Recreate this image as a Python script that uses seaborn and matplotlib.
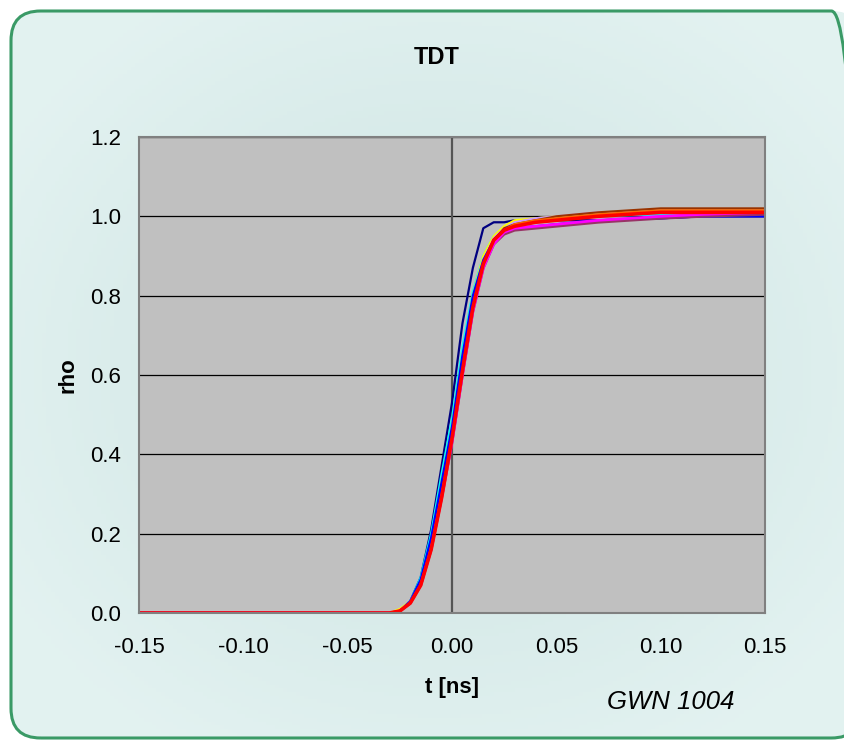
import numpy as np
import pandas as pd
import matplotlib
matplotlib.use("Agg")
import matplotlib.pyplot as plt
from matplotlib.patches import FancyBboxPatch
import seaborn as sns

sns.set_style("white")
plt.rcParams['font.family'] = ['Liberation Sans', 'DejaVu Sans']
plt.rcParams['text.color'] = 'black'
plt.rcParams['axes.labelcolor'] = 'black'
plt.rcParams['xtick.color'] = 'black'
plt.rcParams['ytick.color'] = 'black'

# time grid [ns] and reflection coefficient per trace
t = [-0.15, -0.03, -0.025, -0.02, -0.015, -0.01, -0.005, 0.0, 0.005, 0.01,
     0.015, 0.02, 0.025, 0.03, 0.04, 0.05, 0.07, 0.1, 0.12, 0.15]

traces = {
    "navy":    [0, 0, 0.005, 0.03, 0.09, 0.21, 0.37, 0.53, 0.73, 0.87, 0.97, 0.985, 0.985, 0.99, 0.99, 0.99, 0.99, 0.995, 1.0, 1.0],
    "cyan":    [0, 0, 0.005, 0.03, 0.09, 0.2, 0.35, 0.49, 0.67, 0.81, 0.9, 0.95, 0.97, 0.98, 0.99, 0.995, 1.0, 1.005, 1.01, 1.01],
    "yellow":  [0, 0, 0.01, 0.03, 0.08, 0.18, 0.33, 0.47, 0.65, 0.8, 0.9, 0.95, 0.975, 0.99, 0.995, 1.0, 1.005, 1.01, 1.01, 1.01],
    "violet":  [0, 0, 0.005, 0.03, 0.08, 0.18, 0.32, 0.46, 0.64, 0.79, 0.89, 0.945, 0.97, 0.985, 0.995, 1.0, 1.01, 1.01, 1.01, 1.01],
    "brown":   [0, 0, 0.005, 0.025, 0.075, 0.17, 0.31, 0.45, 0.63, 0.78, 0.88, 0.94, 0.97, 0.98, 0.99, 1.0, 1.01, 1.02, 1.02, 1.02],
    "orange":  [0, 0, 0.005, 0.025, 0.075, 0.17, 0.3, 0.45, 0.62, 0.78, 0.88, 0.94, 0.965, 0.98, 0.99, 0.995, 1.005, 1.015, 1.015, 1.015],
    "blue":    [0, 0, 0.005, 0.03, 0.085, 0.19, 0.33, 0.47, 0.65, 0.8, 0.89, 0.94, 0.96, 0.97, 0.975, 0.98, 0.99, 0.995, 1.0, 1.0],
    "purple":  [0, 0, 0.005, 0.025, 0.07, 0.16, 0.29, 0.43, 0.6, 0.76, 0.87, 0.93, 0.955, 0.965, 0.97, 0.975, 0.985, 0.995, 1.0, 1.005],
    "magenta": [0, 0, 0.005, 0.025, 0.07, 0.16, 0.29, 0.43, 0.6, 0.76, 0.87, 0.93, 0.96, 0.97, 0.975, 0.98, 0.99, 1.0, 1.005, 1.01],
    "red":     [0, 0, 0.005, 0.025, 0.07, 0.16, 0.29, 0.44, 0.61, 0.77, 0.88, 0.94, 0.965, 0.975, 0.985, 0.99, 1.0, 1.01, 1.01, 1.01],
}
colors = {
    "navy": "#000080", "cyan": "#00ffff", "yellow": "#ffff00", "violet": "#cc99ff",
    "brown": "#993300", "orange": "#ff6600", "blue": "#0000ff", "purple": "#993366",
    "magenta": "#ff00ff", "red": "#ff0000",
}
widths = {"red": 2.6, "magenta": 2.0, "purple": 2.0}

df = pd.DataFrame(traces)
df["t"] = t
long = df.melt(id_vars="t", var_name="trace", value_name="rho")

fig = plt.figure(figsize=(8.45, 7.4), dpi=100)
fig.patch.set_facecolor("white")

# panel background with soft radial shading
bg = fig.add_axes([0, 0, 1, 1], zorder=-2)
yy, xx = np.mgrid[0:1:200j, 0:1:200j]
r = np.sqrt(((xx - 0.52) / 0.6) ** 2 + ((yy - 0.5) / 0.6) ** 2)
shade = np.clip(r, 0, 1)
c0 = np.array([0.80, 0.89, 0.885])
c1 = np.array([0.89, 0.95, 0.945])
img = c0[None, None, :] * (1 - shade[..., None]) + c1[None, None, :] * shade[..., None]
bg.imshow(img, extent=[0, 1, 0, 1], aspect="auto", origin="lower")
bg.set_xlim(0, 1)
bg.set_ylim(0, 1)
bg.axis("off")
panel = FancyBboxPatch((11 / 845, 2 / 740), 850 / 845, 727 / 740,
                       boxstyle="round,pad=0,rounding_size=0.035",
                       transform=bg.transAxes, facecolor="none",
                       edgecolor="#3a9a66", linewidth=2.2, mutation_aspect=845 / 740)
bg.add_patch(panel)
clip = FancyBboxPatch((11 / 845, 2 / 740), 850 / 845, 727 / 740,
                      boxstyle="round,pad=0,rounding_size=0.035",
                      transform=bg.transAxes, facecolor="none", edgecolor="none",
                      mutation_aspect=845 / 740)
bg.add_patch(clip)
bg.images[0].set_clip_path(clip)

ax = fig.add_axes([139 / 845, 1 - 613 / 740, (765 - 139) / 845, (613 - 137) / 740])
ax.set_facecolor("#c0c0c0")

sns.lineplot(data=long, x="t", y="rho", hue="trace", palette=colors,
             hue_order=list(traces.keys()), ax=ax, legend=False, linewidth=1.6,
             estimator=None, sort=False)
for line, name in zip(ax.lines, traces.keys()):
    line.set_linewidth(widths.get(name, 1.6))

ax.set_xlim(-0.15, 0.15)
ax.set_ylim(0, 1.2)
ax.set_xticks(np.arange(-0.15, 0.151, 0.05))
ax.set_xticklabels(["-0.15", "-0.10", "-0.05", "0.00", "0.05", "0.10", "0.15"])
ax.set_yticks(np.arange(0, 1.21, 0.2))
ax.set_yticklabels(["0.0", "0.2", "0.4", "0.6", "0.8", "1.0", "1.2"])
ax.yaxis.grid(True, color="black", linewidth=0.9)
ax.xaxis.grid(False)
ax.axvline(0, color="#555555", linewidth=1.6, zorder=1)
ax.axhline(0, color="black", linewidth=1.2, zorder=1)
for s in ax.spines.values():
    s.set_color("#808080")
    s.set_linewidth(1.5)
ax.tick_params(axis="x", direction="out", length=6, width=1, color="black",
               labelsize=16, pad=11)
ax.tick_params(axis="y", length=0, labelsize=16, pad=13)

ax.set_xlabel("t [ns]", fontsize=16, fontweight="bold", labelpad=14)
ax.set_ylabel("rho", fontsize=16, fontweight="bold", labelpad=8)
fig.text(437 / 845, 1 - 57 / 740, "TDT", ha="center", va="center",
         fontsize=17, fontweight="bold")
fig.text(671 / 845, 1 - 702 / 740, "GWN 1004", ha="center", va="center",
         fontsize=18.5, style="italic")

fig.savefig("out.png", dpi=100)
